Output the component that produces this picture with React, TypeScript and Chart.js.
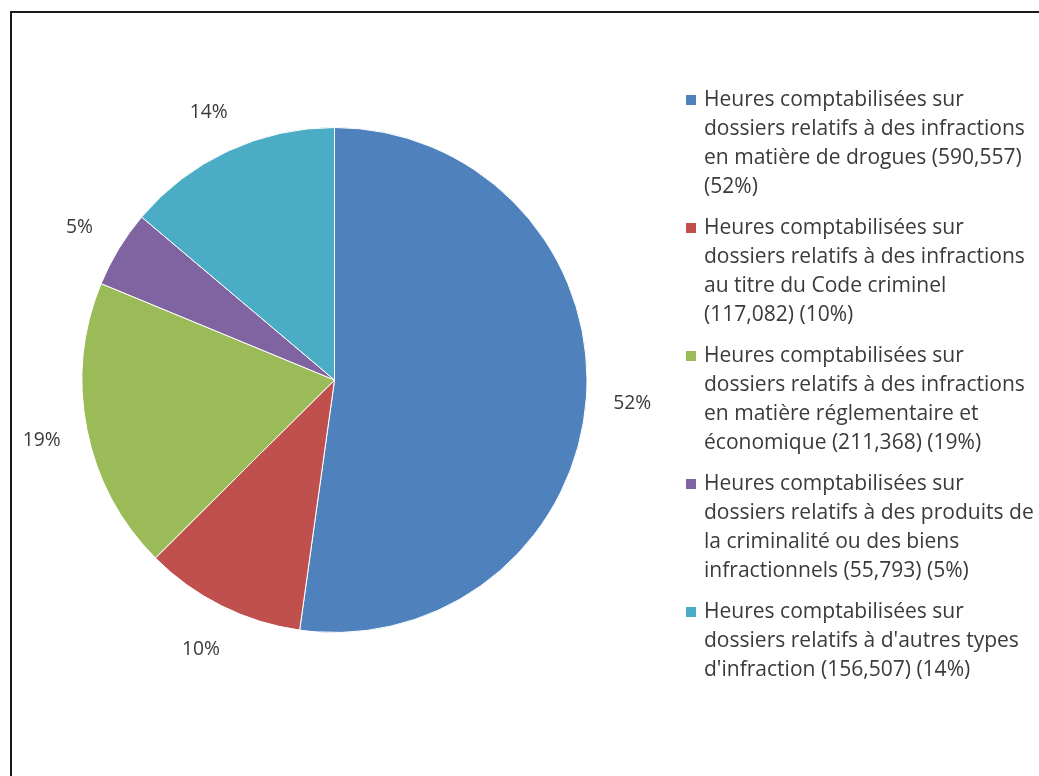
import React, { useEffect, useRef } from "react";
import { Chart, registerables } from "chart.js";

Chart.register(...registerables);

const categories: string[][] = [
  ["Heures comptabilisées sur", "dossiers relatifs à des infractions", "en matière de drogues (590,557)", "(52%)"],
  ["Heures comptabilisées sur", "dossiers relatifs à des infractions", "au titre du Code criminel", "(117,082) (10%)"],
  ["Heures comptabilisées sur", "dossiers relatifs à des infractions", "en matière réglementaire et", "économique (211,368) (19%)"],
  ["Heures comptabilisées sur", "dossiers relatifs à des produits de", "la criminalité ou des biens", "infractionnels (55,793) (5%)"],
  ["Heures comptabilisées sur", "dossiers relatifs à d'autres types", "d'infraction (156,507) (14%)"],
];
const hours: number[] = [590557, 117082, 211368, 55793, 156507];
const percentLabels: string[] = ["52%", "10%", "19%", "5%", "14%"];
const colors: string[] = ["#4F81BD", "#C0504D", "#9BBB59", "#8064A2", "#4BACC6"];

const FONT = "'Open Sans', 'Noto Sans', sans-serif";
const TEXT_COLOR = "#3a3a3a";

function fitSize(ctx: CanvasRenderingContext2D, text: string, target: number): number {
  ctx.font = `100px ${FONT}`;
  const w = ctx.measureText(text).width;
  return (target / w) * 100;
}

const labelPlugin = {
  id: "outsideLabels",
  afterDatasetsDraw(chart: any) {
    const ctx = chart.ctx;
    const meta = chart.getDatasetMeta(0);
    ctx.save();
    const size = fitSize(ctx, "52%", 38);
    ctx.font = `${size}px ${FONT}`;
    ctx.fillStyle = TEXT_COLOR;
    ctx.textAlign = "center";
    ctx.textBaseline = "middle";
    meta.data.forEach((arc: any, i: number) => {
      const p = arc.getProps(["x", "y", "startAngle", "endAngle", "outerRadius"], true);
      const mid = (p.startAngle + p.endAngle) / 2;
      const r = p.outerRadius + 46;
      ctx.fillText(percentLabels[i], p.x + Math.cos(mid) * r, p.y + Math.sin(mid) * r + 3);
    });
    ctx.restore();
  },
};

const legendPlugin = {
  id: "wrappedLegend",
  afterDraw(chart: any) {
    const ctx = chart.ctx;
    const x0 = 686;
    let y = 100;
    const lineH = 29;
    ctx.save();
    const size = fitSize(ctx, "dossiers relatifs à des infractions", 321);
    ctx.font = `${size}px ${FONT}`;
    ctx.textBaseline = "middle";
    ctx.textAlign = "left";
    const labels: string[][] = chart.data.labels;
    labels.forEach((lines, i) => {
      ctx.fillStyle = colors[i];
      ctx.fillRect(x0, y - 5, 10, 10);
      ctx.fillStyle = TEXT_COLOR;
      lines.forEach((ln, j) => {
        ctx.fillText(ln, x0 + 18, y + j * lineH);
      });
      y += lines.length * lineH + 12;
    });
    ctx.restore();
  },
};

export default function App() {
  const ref = useRef<HTMLCanvasElement>(null);
  useEffect(() => {
    if (!ref.current) return;
    const chart = new Chart(ref.current, {
      type: "pie",
      data: {
        labels: categories as any,
        datasets: [
          {
            data: hours,
            backgroundColor: colors,
            borderColor: "#ffffff",
            borderWidth: 1,
          },
        ],
      },
      options: {
        animation: false,
        responsive: false,
        maintainAspectRatio: false,
        layout: { padding: { left: 81, right: 451, top: 127, bottom: 143 } },
        plugins: {
          legend: { display: false },
          tooltip: { enabled: false },
        },
      },
      plugins: [labelPlugin, legendPlugin],
    });
    return () => chart.destroy();
  }, []);
  return (
    <div style={{ position: "fixed", left: 0, top: 0, width: 1039, height: 776, overflow: "hidden", background: "#fff" }}>
      <canvas ref={ref} width={1039} height={776} style={{ position: "absolute", left: 0, top: 0 }} />
      <div
        style={{
          position: "absolute",
          left: 10,
          top: 11,
          width: 1200,
          height: 1000,
          border: "2px solid #1a1a1a",
          boxSizing: "border-box",
          pointerEvents: "none",
        }}
      />
    </div>
  );
}
